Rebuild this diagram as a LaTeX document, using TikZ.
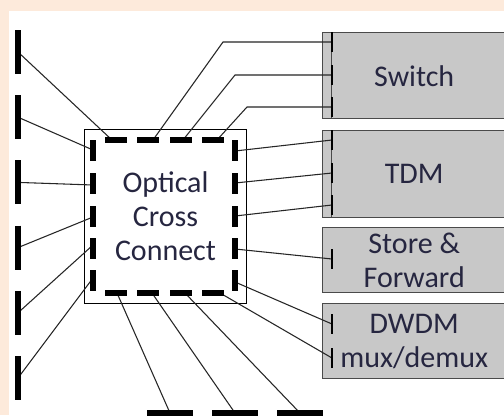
\documentclass[tikz,border=0pt]{standalone}
\usepackage{fontspec}
\setmainfont{Carlito}
\usepackage{tikz}
\usetikzlibrary{calc}
\usetikzlibrary{positioning}
\definecolor{peach}{HTML}{FDEADB}
\definecolor{boxgray}{HTML}{C8C8C8}
\definecolor{boxline}{HTML}{4A4A4A}
\definecolor{labeltext}{HTML}{262640}

\begin{document}
\begin{tikzpicture}[
			x=0.75pt, y=-0.75pt,
			every node/.style={
					text=labeltext,
					align=center,
					font=\fontsize{22.5}{25.5}\selectfont
				},
			gbox/.style={
					draw=boxline,
					fill=boxgray,
					line width=1.1pt,
					minimum width=137.25pt,
					anchor=north west
				},
			fiber/.style={line width=0.8pt, black!85},
			bar/.style={line width=4.5pt, black},      % fibre ends on the left/bottom
			portbar/.style={line width=3.8pt, black},  % ports of the cross connect
			tick/.style={line width=2.2pt, black}      % ports of the gray boxes
		]
		\useasboundingbox (0,0) rectangle (504,415);
		\fill[peach] (0,0) rectangle (504,415);
		\fill[white] (9,11) rectangle (504,415);

		% cross connect and the equipment on the right
		\node[draw, line width=0.75pt, minimum width=121.5pt, minimum height=130.5pt,
			anchor=north west, inner sep=0pt] (oxc) at (84,129) {};
		\node at (oxc.center) {Optical\\Cross\\Connect};

		\node[gbox, minimum height=64.5pt] (switch) at (322,32) {Switch};
		\node[gbox, minimum height=65.25pt] (tdm) at (322,130) {TDM};
		\node[gbox, minimum height=48.75pt] (store) at (322,227) {Store \&\\Forward};
		\node[gbox, minimum height=56.25pt] (dwdm) at (322,303) {DWDM\\mux/demux};

		\draw[boxline, line width=0.6pt] ([xshift=6.75pt]switch.north west) -- ([xshift=6.75pt]switch.south west);
		\draw[boxline, line width=0.6pt] ([xshift=6.75pt]tdm.north west) -- ([xshift=6.75pt]tdm.south west);

		% port positions
		\foreach \i in {1,...,6}
			\coordinate (in\i) at (18, {52+65.2*(\i-1)});
		\coordinate (out1) at (170,413);
		\coordinate (out2) at (235,413);
		\coordinate (out3) at (300,413);

		\coordinate (tp1) at (112,140);
		\coordinate (tp2) at (153,140);
		\coordinate (tp3) at (183,140);
		\coordinate (tp4) at (217,140);
		\coordinate (lp1) at (93,150);
		\coordinate (lp2) at (93,185);
		\coordinate (lp3) at (93,217);
		\coordinate (lp4) at (93,245);
		\coordinate (lp5) at (93,278);
		\coordinate (rp1) at (235,151);
		\coordinate (rp2) at (235,183);
		\coordinate (rp3) at (235,216);
		\coordinate (rp4) at (235,249);
		\coordinate (rp5) at (235,282);
		\coordinate (bp1) at (117,293);
		\coordinate (bp2) at (152,293);
		\coordinate (bp3) at (185,293);
		\coordinate (bp4) at (220,293);

		\coordinate (sw1) at (332,42);
		\coordinate (sw2) at (332,75);
		\coordinate (sw3) at (332,107);
		\coordinate (td1) at (332,140);
		\coordinate (td2) at (332,173);
		\coordinate (td3) at (332,205);
		\coordinate (sf1) at (332,259);
		\coordinate (dw1) at (332,324);
		\coordinate (dw2) at (332,358);

		% fibres
		\draw[fiber] (in1) -- (tp1);
		\draw[fiber] (in2) -- (lp1);
		\draw[fiber] (in3) -- (lp2);
		\draw[fiber] (in4) -- (lp3);
		\draw[fiber] (in5) -- (lp4);
		\draw[fiber] (in6) -- (lp5);

		\draw[fiber] (tp2) -- ([xshift=-81.75pt]sw1) -- (sw1);
		\draw[fiber] (tp3) -- ([xshift=-72.75pt]sw2) -- (sw2);
		\draw[fiber] (tp4) -- ([xshift=-63.75pt]sw3) -- (sw3);

		\draw[fiber] (rp1) -- (td1);
		\draw[fiber] (rp2) -- (td2);
		\draw[fiber] (rp3) -- (td3);
		\draw[fiber] (rp4) -- (sf1);
		\draw[fiber] (rp5) -- (dw1);
		\draw[fiber] (bp4) -- (dw2);

		\draw[fiber] (bp1) -- (out1);
		\draw[fiber] (bp2) -- (out2);
		\draw[fiber] (bp3) -- (out3);

		% thick ends
		\foreach \i in {1,...,6}
			\draw[bar] ([yshift=16.5pt]in\i) -- ([yshift=-16.5pt]in\i);
		\foreach \i in {1,2,3}
			\draw[bar] ([xshift=-16.9pt]out\i) -- ([xshift=16.9pt]out\i);

		% dashed border of the cross connect
		\foreach \x in {105,137,170,202} {
			\draw[portbar] (\x,140) -- ++(22,0);
			\draw[portbar] (\x,293) -- ++(22,0);
		}
		\foreach \y in {140,173,206,238,270} {
			\draw[portbar] (93,\y) -- ++(0,21);
			\draw[portbar] (235,\y) -- ++(0,21);
		}

		% ports on the equipment
		\foreach \p in {sw1,sw2,sw3,td1,td2,td3,sf1,dw1,dw2}
			\draw[tick] ([yshift=7.5pt]\p) -- ([yshift=-7.5pt]\p);
	\end{tikzpicture}
\end{document}
